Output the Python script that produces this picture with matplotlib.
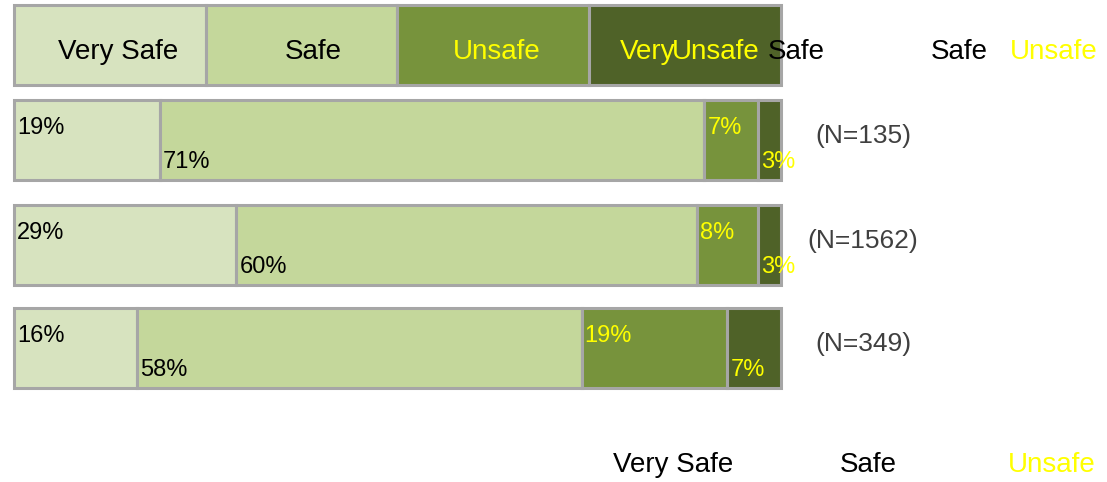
import numpy as np
import matplotlib.pyplot as plt

plt.rcParams['font.family'] = ['Liberation Sans', 'DejaVu Sans']

# categories and values (percent)
categories = ['Very Safe', 'Safe', 'Unsafe', 'Very Unsafe']
colors = ['#d7e3bf', '#c4d79b', '#77933c', '#4f6228']
label_colors = ['black', 'black', '#ffff00', '#ffff00']
header_share = [25, 25, 25, 25]
row1 = [19, 71, 7, 3]
row2 = [29, 60, 8, 3]
row3 = [16, 58, 19, 7]
rows = [row1, row2, row3]
n_labels = ['(N=135)', '(N=1562)', '(N=349)']

# layout in pixels
W, H = 1107, 482
px = 7.67  # pixels per percent
x0 = 14
row_y = [140, 245, 348]
bar_h = 80

fig = plt.figure(figsize=(W / 100, H / 100), dpi=100)
ax = fig.add_axes([0, 0, 1, 1])
ax.set_xlim(-x0 / px, (W - x0) / px)
ax.set_ylim(H, 0)
ax.axis('off')

edge = '#a6a6a6'

# header boxes
left = 0
for share, c in zip(header_share, colors):
    ax.barh(45, share, left=left, height=bar_h, color=c, edgecolor=edge, linewidth=2.2)
    left += share

# header text (placed as in the original)
def ptxt(x, y, s, color='black', size=20):
    ax.text((x - x0) / px, y, s, color=color, fontsize=size, ha='left', va='center')

ty_head = 52
ptxt(58, ty_head, 'Very Safe')
ptxt(285, ty_head, 'Safe')
ptxt(453, ty_head, 'Unsafe', '#ffff00')
ptxt(620, ty_head, 'Very', '#ffff00')
ptxt(672, ty_head, 'Unsafe', '#ffff00')
ptxt(768, ty_head, 'Safe')
ptxt(931, ty_head, 'Safe')
ptxt(1010, ty_head, 'Unsafe', '#ffff00')

# data bars
for y, vals, nl in zip(row_y, rows, n_labels):
    left = 0
    for i, (v, c) in enumerate(zip(vals, colors)):
        ax.barh(y, v, left=left, height=bar_h, color=c, edgecolor=edge, linewidth=2.2)
        ty = y - bar_h / 2 + 28 if i % 2 == 0 else y + bar_h / 2 - 18
        ax.text(left + 0.4, ty, f'{v}%', color=label_colors[i], fontsize=17,
                ha='left', va='center')
        left += v
    ax.text((863 - x0) / px, y - 4, nl, color='#404040', fontsize=19,
            ha='center', va='center')

# bottom legend text
ptxt(613, 465, 'Very Safe')
ptxt(840, 465, 'Safe')
ptxt(1008, 465, 'Unsafe', '#ffff00')

fig.savefig('out.png', dpi=100)
